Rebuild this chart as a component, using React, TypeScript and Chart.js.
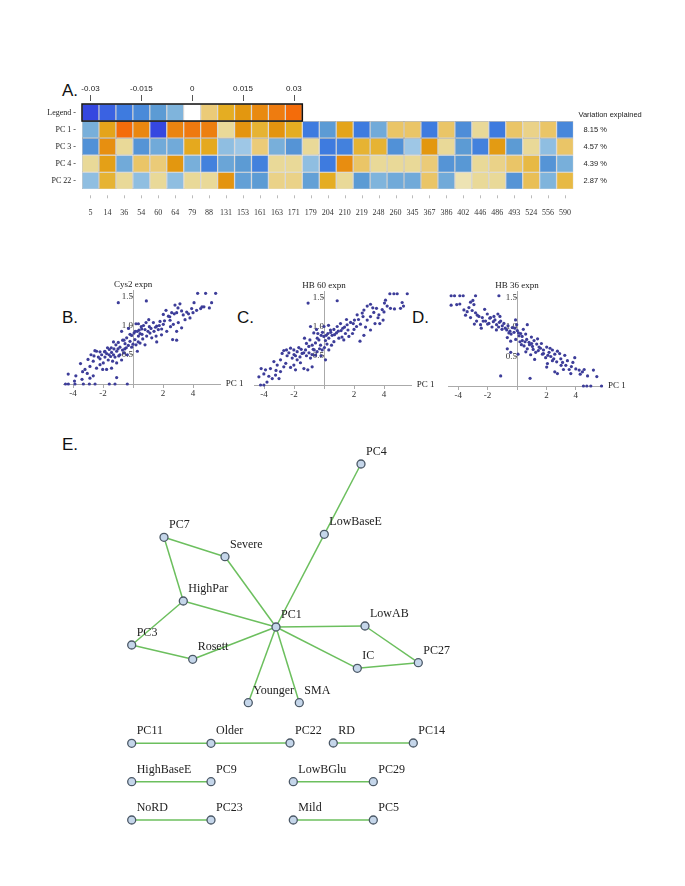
import React, { useEffect, useRef } from "react";
import { Chart, registerables } from "chart.js";

Chart.register(...registerables);

// ---------------- Panel A: heatmap data ----------------
const columnLabels = ["5", "14", "36", "54", "60", "64", "79", "88", "131", "153", "161", "163", "171", "179", "204", "210", "219", "248", "260", "345", "367", "386", "402", "446", "486", "493", "524", "556", "590"];
const rowNames = ["Legend", "PC 1", "PC 3", "PC 4", "PC 22"];
const legendValues = [-0.03, -0.025, -0.02, -0.015, -0.01, -0.005, 0, 0.005, 0.01, 0.015, 0.02, 0.025, 0.03];
const legendTickLabels = ["-0.03", "-0.015", "0", "0.015", "0.03"];
const legendTickColumns = [0, 3, 6, 9, 12];
const pc1Values = [-0.006, 0.012, 0.03, 0.021, -0.03, 0.022, 0.026, 0.024, 0.003, 0.016, 0.009, 0.016, 0.01, -0.02, -0.01, 0.012, -0.02, -0.007, 0.006, 0.006, -0.02, 0.006, -0.014, 0.003, -0.02, 0.006, 0.004, 0.006, -0.016];
const pc3Values = [-0.013, 0.018, 0.003, -0.012, -0.007, -0.007, 0.011, 0.011, -0.004, -0.003, 0.005, -0.006, -0.012, 0.003, -0.02, -0.018, 0.009, 0.009, -0.013, -0.003, 0.015, 0.003, -0.01, -0.018, 0.014, -0.01, 0.003, -0.004, 0.006];
const pc4Values = [0.003, 0.013, -0.007, 0.006, 0.005, 0.015, -0.006, -0.018, -0.008, -0.01, -0.018, 0.003, 0.003, -0.004, -0.02, 0.019, 0.006, 0.003, 0.003, 0.003, 0.005, -0.012, -0.011, 0.003, 0.004, 0.006, 0.008, -0.012, -0.006];
const pc22Values = [-0.004, 0.009, 0.003, -0.004, 0.003, -0.004, 0.003, 0.003, 0.016, -0.009, -0.01, 0.004, 0.004, -0.009, 0.01, 0.003, -0.01, -0.005, -0.007, -0.007, 0.006, -0.007, 0.002, 0.003, 0.003, -0.012, 0.007, -0.005, 0.008];
const variationExplained = ["8.15 %", "4.57 %", "4.39 %", "2.87 %"];

const colorStops: [number, string][] = [
  [-0.03, "#3547e0"], [-0.025, "#3a62e2"], [-0.02, "#3e7bdf"], [-0.015, "#4a8ad9"],
  [-0.01, "#5c9bd4"], [-0.005, "#7fb4dc"], [-0.0025, "#a6cce8"], [0, "#ffffff"],
  [0.0025, "#e8dca0"], [0.005, "#ebcb78"], [0.01, "#e5ad22"], [0.015, "#e3970f"],
  [0.02, "#e98a10"], [0.025, "#ee7c10"], [0.03, "#f46c0a"],
];

// ---------------- Panels B, C, D: scatter data (PC 1, expression) ----------------
const cys2Points: [number, number][] = [
  [4.31, 1.55], [4.84, 1.55], [5.51, 1.55], [-0.98, 1.39], [0.89, 1.42], [5.24, 1.39], [4.73, 1.32], [5.09, 1.3], [4.51, 1.29], [4.07, 1.39],
  [3.91, 1.29], [4.24, 1.26], [3.13, 1.37], [2.8, 1.35], [3.24, 1.25], [3.58, 1.23], [2.91, 1.22], [3.8, 1.13], [3.47, 1.1], [2.58, 1.22],
  [2.36, 1.16], [2.2, 1.26], [2.02, 1.19], [2.47, 1.09], [2.69, 1.02], [3.02, 1.05], [3.24, 0.96], [2.91, 0.9], [2.64, 0.76], [2.91, 0.75],
  [2.02, 1.02], [1.8, 1.07], [1.58, 0.99], [1.36, 1.05], [1.09, 0.98], [0.87, 1.05], [0.58, 0.94], [0.36, 1.03], [0.29, 0.9], [0.47, 0.86],
  [0.8, 0.93], [1.13, 0.87], [1.4, 0.9], [1.69, 0.93], [1.91, 0.94], [2.25, 0.9], [1.54, 0.82], [1.25, 0.79], [0.91, 0.82], [0.65, 0.77],
  [0.36, 0.82], [0.13, 0.76], [0.07, 0.87], [-0.09, 0.83], [-0.2, 0.73], [-0.42, 0.79], [-0.53, 0.69], [-0.31, 0.66], [-0.09, 0.63], [0.2, 0.67],
  [0.47, 0.7], [0.29, 0.56], [0.8, 0.67], [-0.76, 0.9], [-0.69, 0.75], [-0.98, 0.71], [-0.87, 0.63], [-1.14, 0.67], [-1.27, 0.6], [-1.09, 0.56],
  [-1.43, 0.54], [-1.58, 0.59], [-1.76, 0.52], [-1.49, 0.47], [-1.2, 0.46], [-0.87, 0.5], [-0.6, 0.53], [-0.38, 0.5], [-0.76, 0.41], [-1.09, 0.36],
  [-1.36, 0.39], [-1.65, 0.41], [-1.87, 0.46], [-1.98, 0.36], [-2.2, 0.43], [-2.02, 0.25], [-1.76, 0.25], [-1.43, 0.27], [-1.09, 0.11], [-2.43, 0.56],
  [-2.54, 0.57], [-2.31, 0.46], [-2.65, 0.39], [-2.87, 0.3], [-3.2, 0.25], [-3.36, 0.21], [-3.05, 0.18], [-2.87, 0.1], [-2.65, 0.14], [-3.81, 0.14],
  [-4.32, 0.17], [-2.43, 0.27], [-2.2, 0.33], [-1.87, 0.56], [-2.09, 0.5], [-4.5, 0], [-4.31, 0], [-3.87, 0], [-3.31, 0], [-2.91, 0],
  [-2.53, 0], [-1.58, 0], [-1.2, 0], [-0.38, 0], [0.2, 1.03], [1.58, 0.72], [0.55, 0.98], [1.05, 1.1], [2.5, 0.98], [3.7, 1.2],
  [-0.3, 0.95], [-0.55, 0.6], [-1.3, 0.72], [-1.7, 0.62], [-2.8, 0.5], [-3.5, 0.35], [-3.0, 0.42], [4.0, 1.22], [4.6, 1.32],
  [-1.9, 0.55], [-1.6, 0.5], [-1.3, 0.5], [-1.0, 0.6], [-0.7, 0.58], [-0.45, 0.62], [-0.2, 0.85], [0.0, 0.68], [0.15, 0.9], [0.4, 0.92],
  [0.6, 0.85], [1.0, 0.9], [1.2, 0.95], [1.5, 0.97], [1.75, 1.0], [2.1, 1.08], [2.45, 1.15], [2.75, 1.2], [3.35, 1.18], [3.0, 1.3],
  [-2.6, 0.48], [-2.2, 0.55], [-1.45, 0.62], [-0.95, 0.48], [-0.6, 0.75], [0.35, 0.72], [0.7, 1.0], [1.9, 0.84], [-3.9, 0.05], [-3.4, 0.08],
];
const hb60Points: [number, number][] = [
  [4.39, 1.56], [4.66, 1.56], [4.88, 1.56], [5.55, 1.56], [-1.06, 1.4], [0.88, 1.44], [4.1, 1.45], [4.03, 1.4], [4.21, 1.35], [5.21, 1.41],
  [5.1, 1.31], [4.43, 1.31], [3.88, 1.29], [3.5, 1.31], [3.1, 1.38], [2.88, 1.35], [2.66, 1.28], [3.32, 1.24], [3.66, 1.2], [3.94, 1.11],
  [3.72, 1.05], [3.1, 1.17], [2.88, 1.11], [2.55, 1.23], [2.21, 1.2], [2.03, 1.11], [2.43, 1.04], [2.77, 0.99], [3.1, 0.94], [2.66, 0.85],
  [2.17, 1.0], [1.77, 1.07], [1.54, 1.03], [1.37, 0.99], [1.1, 1.05], [0.88, 1.0], [0.66, 0.95], [0.43, 0.94], [0.26, 0.88], [0.54, 0.85],
  [0.83, 0.89], [1.14, 0.93], [1.43, 0.88], [1.66, 0.83], [1.32, 0.77], [0.99, 0.8], [0.66, 0.74], [0.32, 0.8], [0.1, 0.76], [-0.01, 0.83],
  [-0.19, 0.85], [-0.41, 0.88], [-0.68, 0.89], [-0.34, 0.77], [-0.57, 0.72], [-0.79, 0.68], [-1.01, 0.66], [-1.17, 0.71], [-0.94, 0.77], [-0.23, 0.68],
  [0.03, 0.64], [0.32, 0.6], [-0.12, 0.6], [-0.46, 0.57], [-0.72, 0.61], [-1.23, 0.6], [-1.52, 0.61], [-1.68, 0.64], [-1.79, 0.57], [-1.46, 0.54],
  [-1.17, 0.5], [-0.9, 0.46], [-0.57, 0.51], [-2.01, 0.6], [-2.23, 0.63], [-2.34, 0.55], [-2.68, 0.59], [-2.79, 0.54], [-2.46, 0.5], [-2.12, 0.46],
  [-1.79, 0.43], [-1.57, 0.38], [-2.01, 0.34], [-2.23, 0.3], [-1.9, 0.26], [-1.08, 0.26], [-0.79, 0.31], [-1.34, 0.28], [0.1, 0.43], [-3.34, 0.4],
  [-3.12, 0.34], [-2.9, 0.43], [-2.68, 0.31], [-3.57, 0.28], [-3.9, 0.26], [-4.19, 0.28], [-4.34, 0.14], [-4.01, 0.19], [-3.68, 0.15], [-3.45, 0.11],
  [-3.23, 0.17], [-3.0, 0.11], [-4.23, 0], [-4.01, 0], [-2.9, 0.23], [-0.9, 1.0], [-0.5, 0.95], [0.0, 1.0], [0.3, 1.02], [1.9, 0.88],
  [2.4, 0.75], [3.4, 1.05], [4.0, 1.25], [4.7, 1.3], [5.3, 1.35], [-1.3, 0.8], [-0.2, 0.5],
  [-1.9, 0.5], [-1.35, 0.55], [-1.0, 0.55], [-0.65, 0.6], [-0.3, 0.62], [-0.1, 0.9], [0.2, 0.7], [0.45, 0.9], [0.7, 0.86], [0.95, 0.92],
  [1.25, 0.97], [1.6, 0.94], [1.95, 1.05], [2.3, 1.12], [2.6, 1.17], [3.25, 1.32], [-2.5, 0.6], [-2.0, 0.52], [-1.6, 0.48], [-0.8, 0.52],
  [0.15, 0.85], [0.5, 0.68], [1.2, 0.82], [2.0, 0.95], [-3.8, 0.05], [-3.2, 0.25], [-2.55, 0.37], [3.6, 1.15], [-0.45, 0.8], [1.5, 1.12],
];
const hb36Points: [number, number][] = [
  [-4.48, 1.53], [-4.25, 1.53], [-3.89, 1.53], [-3.66, 1.53], [-2.82, 1.53], [-1.23, 1.53], [-4.48, 1.37], [-3.89, 1.39], [-3.16, 1.42], [-2.93, 1.38],
  [-3.27, 1.33], [-3.05, 1.28], [-3.39, 1.26], [-2.82, 1.24], [-2.59, 1.18], [-3.16, 1.16], [-2.75, 1.1], [-2.36, 1.16], [-2.02, 1.22], [-1.8, 1.16],
  [-1.57, 1.18], [-1.3, 1.22], [-1.16, 1.18], [-2.14, 1.1], [-2.48, 1.04], [-2.43, 0.98], [-1.91, 1.06], [-1.61, 1.09], [-1.39, 1.04], [-1.11, 1.1],
  [-0.89, 1.06], [-0.61, 1.02], [-1.25, 1.0], [-1.02, 0.96], [-0.8, 0.98], [-0.48, 0.93], [-0.32, 0.99], [-0.02, 1.04], [-0.2, 0.91], [0.02, 0.94],
  [0.25, 0.89], [0.43, 0.96], [0.7, 1.04], [0.59, 0.88], [0.14, 0.85], [-0.09, 0.79], [-0.43, 0.76], [-0.66, 0.82], [0.36, 0.77], [0.66, 0.79],
  [0.82, 0.74], [0.98, 0.83], [1.16, 0.77], [1.34, 0.71], [1.05, 0.67], [0.7, 0.63], [0.48, 0.68], [1.5, 0.66], [1.66, 0.72], [1.8, 0.61],
  [2.02, 0.66], [2.18, 0.57], [2.41, 0.61], [2.57, 0.54], [2.75, 0.59], [2.3, 0.5], [1.95, 0.48], [1.73, 0.54], [1.27, 0.57], [0.93, 0.53],
  [2.07, 0.38], [2.02, 0.32], [2.41, 0.43], [2.7, 0.41], [2.98, 0.46], [3.25, 0.52], [3.43, 0.43], [3.32, 0.35], [3.16, 0.28], [3.55, 0.28],
  [3.66, 0.21], [3.93, 0.48], [4.0, 0.29], [4.23, 0.27], [4.45, 0.24], [4.57, 0.28], [5.2, 0.27], [4.8, 0.17], [5.43, 0.16], [2.75, 0.21],
  [2.57, 0.24], [-1.11, 0.17], [0.89, 0.13], [-0.66, 0.63], [-0.43, 0.57], [0.07, 0.54], [4.52, 0], [4.75, 0], [5.02, 0], [5.75, 0],
  [-3.61, 1.29], [-3.5, 1.2], [-2.2, 1.3], [-1.7, 1.0], [-2.9, 1.05], [-0.1, 1.12], [0.3, 0.7], [1.4, 0.8], [1.2, 0.45], [3.0, 0.35],
  [3.8, 0.4], [-4.1, 1.38], [-1.4, 0.95],
  [-2.0, 1.05], [-1.5, 1.12], [-1.0, 1.02], [-0.7, 0.95], [-0.4, 0.88], [-0.15, 0.98], [0.1, 0.9], [0.35, 0.84], [0.55, 0.75], [0.85, 0.7],
  [1.1, 0.62], [1.45, 0.6], [1.8, 0.55], [2.1, 0.52], [2.5, 0.46], [-2.7, 1.2], [-2.3, 1.1], [-1.85, 1.15], [-1.2, 1.08], [-0.55, 0.9],
  [0.2, 0.75], [0.6, 0.58], [1.0, 0.72], [1.6, 0.64], [2.25, 0.64], [2.9, 0.55], [3.1, 0.4], [3.7, 0.33], [-3.0, 1.45], [4.3, 0.2],
];
const scatterXTicksStep = 2;
const scatterYTicksStep = 0.5;

// ---------------- Panel E: network data ----------------
const nodeNames = ["PC4", "LowBaseE", "PC7", "Severe", "HighPar", "PC1", "LowAB", "PC3", "Rosett", "IC", "PC27", "Younger", "SMA",
  "PC11", "Older", "PC22", "RD", "PC14", "HighBaseE", "PC9", "LowBGlu", "PC29", "NoRD", "PC23", "Mild", "PC5"];
const nodeX = [8.5, 4.83, -11.2, -5.1, -9.27, 0, 8.9, -14.43, -8.33, 8.13, 14.23, -2.77, 2.33,
  -14.43, -6.5, 1.4, 5.73, 13.73, -14.43, -6.5, 1.73, 9.73, -14.43, -6.5, 1.73, 9.73];
const nodeY = [16.3, 9.27, 8.97, 7.03, 2.6, 0, 0.1, -1.8, -3.23, -4.13, -3.57, -7.57, -7.57,
  -11.63, -11.63, -11.6, -11.6, -11.6, -15.47, -15.47, -15.47, -15.47, -19.3, -19.3, -19.3, -19.3];
const edgeFrom = ["PC4", "LowBaseE", "PC7", "PC7", "Severe", "HighPar", "HighPar", "PC3", "Rosett", "PC1", "LowAB", "PC27", "IC", "PC1", "PC1",
  "PC11", "Older", "RD", "HighBaseE", "LowBGlu", "NoRD", "Mild"];
const edgeTo = ["LowBaseE", "PC1", "Severe", "HighPar", "PC1", "PC1", "PC3", "Rosett", "PC1", "LowAB", "PC27", "IC", "PC1", "Younger", "SMA",
  "Older", "PC22", "PC14", "PC9", "PC29", "PC23", "PC5"];

// ---------------- helpers ----------------
function hexToRgb(h: string) {
  const n = parseInt(h.slice(1), 16);
  return [(n >> 16) & 255, (n >> 8) & 255, n & 255];
}
function valueColor(v: number) {
  if (v <= colorStops[0][0]) return colorStops[0][1];
  for (let i = 1; i < colorStops.length; i++) {
    const [v1, c1] = colorStops[i];
    if (v <= v1) {
      const [v0, c0] = colorStops[i - 1];
      const t = (v - v0) / (v1 - v0);
      const a = hexToRgb(c0), b = hexToRgb(c1);
      const r = a.map((x, k) => Math.round(x + (b[k] - x) * t));
      return `rgb(${r[0]},${r[1]},${r[2]})`;
    }
  }
  return colorStops[colorStops.length - 1][1];
}

const SERIF = '"Liberation Serif", "Times New Roman", serif';
const SANS = '"Liberation Sans", Arial, sans-serif';

// ---------------- Heatmap ----------------
function Heatmap() {
  const ref = useRef<HTMLCanvasElement | null>(null);
  useEffect(() => {
    const rowsBottomUp = [
      { name: "PC 22", values: pc22Values },
      { name: "PC 4", values: pc4Values },
      { name: "PC 3", values: pc3Values },
      { name: "PC 1", values: pc1Values },
      { name: "Legend", values: legendValues },
    ];
    const decor = {
      id: "heatmapDecor",
      afterDatasetsDraw(chart: any) {
        const { ctx, chartArea: a, scales } = chart;
        const x = scales.x, y = scales.y;
        const colW = (a.right - a.left) / columnLabels.length;
        const top = y.getPixelForValue(5), bottom = y.getPixelForValue(4);
        ctx.save();
        ctx.strokeStyle = "#111";
        ctx.lineWidth = 1.5;
        ctx.strokeRect(a.left, top, colW * legendValues.length, bottom - top);
        ctx.font = `8px ${SANS}`;
        ctx.fillStyle = "#222";
        ctx.textAlign = "center";
        ctx.textBaseline = "middle";
        legendTickColumns.forEach((c, i) => {
          const px = x.getPixelForValue(c);
          ctx.fillText(legendTickLabels[i], px, top - 15);
          ctx.strokeStyle = "#555";
          ctx.lineWidth = 1;
          ctx.beginPath();
          ctx.moveTo(Math.round(px) + 0.5, top - 9);
          ctx.lineTo(Math.round(px) + 0.5, top - 3);
          ctx.stroke();
        });
        ctx.font = `8px ${SERIF}`;
        ctx.textAlign = "right";
        ctx.fillStyle = "#222";
        rowNames.forEach((n, i) => {
          const cy = y.getPixelForValue(5 - i - 0.5);
          ctx.fillText(n + " -", a.left - 6, cy);
        });
        ctx.font = `7.5px ${SANS}`;
        ctx.textAlign = "left";
        ctx.fillText("Variation explained", a.right + 5, y.getPixelForValue(4.5) + 2.5);
        variationExplained.forEach((t, i) => {
          ctx.fillText(t, a.right + 10, y.getPixelForValue(4 - i - 0.5));
        });
        ctx.strokeStyle = "#bbb";
        ctx.lineWidth = 1;
        columnLabels.forEach((_, i) => {
          const px = Math.round(x.getPixelForValue(i)) + 0.5;
          ctx.beginPath();
          ctx.moveTo(px, a.bottom + 6);
          ctx.lineTo(px, a.bottom + 9);
          ctx.stroke();
        });
        ctx.restore();
      },
    };
    const chart = new Chart(ref.current!, {
      type: "bar",
      data: {
        labels: columnLabels,
        datasets: rowsBottomUp.map((r) => ({
          label: r.name,
          data: columnLabels.map((_, i) => (i < r.values.length ? 1 : null)),
          backgroundColor: columnLabels.map((_, i) => (i < r.values.length ? valueColor(r.values[i]) : "rgba(0,0,0,0)")),
          borderColor: "#a8a8a8",
          borderWidth: 0.6,
          borderSkipped: false,
          barPercentage: 1,
          categoryPercentage: 1,
          inflateAmount: 0,
          stack: "s",
        })),
      },
      options: {
        animation: false,
        responsive: false,
        layout: { padding: { left: 82, right: 111.5, top: 44, bottom: 30.7 } },
        plugins: { legend: { display: false }, tooltip: { enabled: false } },
        scales: {
          x: {
            stacked: true,
            position: { y: 0 },
            afterFit: (s: any) => { s.height = 0; },
            grid: { display: false },
            border: { display: false },
            ticks: { autoSkip: false, maxRotation: 0, padding: 11, color: "#333", font: { family: SERIF, size: 8 } },
          },
          y: { stacked: true, display: false, min: 0, max: 5 },
        },
      },
      plugins: [decor],
    } as any);
    return () => chart.destroy();
  }, []);
  return <canvas ref={ref} width={685} height={160} style={{ position: "absolute", left: 0, top: 60 }} />;
}

// ---------------- Scatter ----------------
type ScatterProps = { points: [number, number][]; yTitle: string; ox: number; oy: number; sx: number; sy: number };
function Scatter({ points, yTitle, ox, oy, sx, sy }: ScatterProps) {
  const ref = useRef<HTMLCanvasElement | null>(null);
  const W = 240, H = 135, L = ox - 100, T = 270;
  const xMin = -4.65, xMax = 5.85, yMin = 0, yMax = 1.6;
  useEffect(() => {
    const decor = {
      id: "scatterDecor",
      afterDraw(chart: any) {
        const { ctx, chartArea: a, scales } = chart;
        ctx.save();
        ctx.font = `9px ${SERIF}`;
        ctx.fillStyle = "#222";
        ctx.textAlign = "center";
        ctx.textBaseline = "middle";
        ctx.fillText(yTitle, scales.x.getPixelForValue(0), a.top - 6);
        ctx.textAlign = "left";
        ctx.fillText("PC 1", a.right + 5, scales.y.getPixelForValue(0));
        ctx.restore();
      },
    };
    const axisCommon = {
      grid: { display: true, drawOnChartArea: false, drawTicks: true, tickLength: 3, color: "#aaa" },
      border: { display: true, color: "#aaa", width: 1 },
    };
    const chart = new Chart(ref.current!, {
      type: "scatter",
      data: {
        datasets: [{
          data: points.map(([x, y]) => ({ x, y })),
          pointRadius: 1.6,
          pointBackgroundColor: "#3d3d99",
          pointBorderWidth: 0,
          clip: false,
        }],
      },
      options: {
        animation: false,
        responsive: false,
        layout: { padding: { left: 100 - (0 - xMin) * sx, right: W - 100 - xMax * sx, top: oy - T - (yMax - yMin) * sy, bottom: H - (oy - T) } },
        plugins: { legend: { display: false }, tooltip: { enabled: false } },
        scales: {
          x: {
            type: "linear", min: xMin, max: xMax, position: { y: 0 },
            afterFit: (s: any) => { s.height = 0; },
            ...axisCommon,
            ticks: { stepSize: scatterXTicksStep, includeBounds: false, padding: 1, color: "#333", font: { family: SERIF, size: 9 },
              callback: (v: any) => (Number(v) === 0 ? "" : String(Math.round(Number(v)))) },
          },
          y: {
            type: "linear", min: yMin, max: yMax, position: { x: 0 },
            afterFit: (s: any) => { s.width = 0; },
            ...axisCommon,
            ticks: { stepSize: scatterYTicksStep, includeBounds: false, padding: 1, color: "#333", font: { family: SERIF, size: 9 },
              callback: (v: any) => (Number(v) === 0 ? "" : Number(v).toFixed(1)) },
          },
        },
      },
      plugins: [decor],
    } as any);
    return () => chart.destroy();
  }, []);
  return <canvas ref={ref} width={W} height={H} style={{ position: "absolute", left: L, top: T }} />;
}

// ---------------- Network ----------------
function Network() {
  const ref = useRef<HTMLCanvasElement | null>(null);
  useEffect(() => {
    const idx = (n: string) => nodeNames.indexOf(n);
    const decor = {
      id: "nodeLabels",
      afterDatasetsDraw(chart: any) {
        const { ctx, scales } = chart;
        ctx.save();
        ctx.font = `12px ${SERIF}`;
        ctx.fillStyle = "#222";
        ctx.textAlign = "left";
        ctx.textBaseline = "middle";
        nodeNames.forEach((n, i) => {
          ctx.fillText(n, scales.x.getPixelForValue(nodeX[i]) + 5, scales.y.getPixelForValue(nodeY[i]) - 12);
        });
        ctx.restore();
      },
    };
    const nodeDataset = {
      data: nodeNames.map((_, i) => ({ x: nodeX[i], y: nodeY[i] })),
      pointRadius: 4,
      pointBackgroundColor: "#c5d6ea",
      pointBorderColor: "#4b5866",
      pointBorderWidth: 1.3,
      clip: false,
    };
    const edgeDatasets = edgeFrom.map((f, k) => ({
      data: [
        { x: nodeX[idx(f)], y: nodeY[idx(f)] },
        { x: nodeX[idx(edgeTo[k])], y: nodeY[idx(edgeTo[k])] },
      ],
      showLine: true,
      borderColor: "#6cbf5e",
      borderWidth: 1.5,
      pointRadius: 0,
      clip: false,
    }));
    const chart = new Chart(ref.current!, {
      type: "scatter",
      data: { datasets: [nodeDataset, ...edgeDatasets] },
      options: {
        animation: false,
        responsive: false,
        layout: { padding: { left: 76, right: 209, top: 7, bottom: 13 } },
        plugins: { legend: { display: false }, tooltip: { enabled: false } },
        scales: {
          x: { type: "linear", min: -20, max: 20, display: false },
          y: { type: "linear", min: -22, max: 18, display: false },
        },
      },
      plugins: [decor],
    } as any);
    return () => chart.destroy();
  }, []);
  return <canvas ref={ref} width={685} height={420} style={{ position: "absolute", left: 0, top: 440 }} />;
}

const letterStyle = (left: number, top: number): React.CSSProperties => ({
  position: "absolute", left, top, fontFamily: SANS, fontSize: 17, lineHeight: "17px", color: "#111",
});

export default function App() {
  return (
    <div style={{ position: "absolute", left: 0, top: 0, width: 685, height: 886, background: "#fff", overflow: "hidden" }}>
      <div style={letterStyle(62, 82)}>A.</div>
      <div style={letterStyle(62, 309)}>B.</div>
      <div style={letterStyle(237, 309)}>C.</div>
      <div style={letterStyle(412, 309)}>D.</div>
      <div style={letterStyle(62, 436)}>E.</div>
      <Heatmap />
      <Scatter points={cys2Points} yTitle="Cys2 expn" ox={133} oy={384} sx={15} sy={58.5} />
      <Scatter points={hb60Points} yTitle="HB 60 expn" ox={323.5} oy={385} sx={15} sy={58.5} />
      <Scatter points={hb36Points} yTitle="HB 36 expn" ox={516.5} oy={386} sx={14.7} sy={59} />
      <Network />
    </div>
  );
}
